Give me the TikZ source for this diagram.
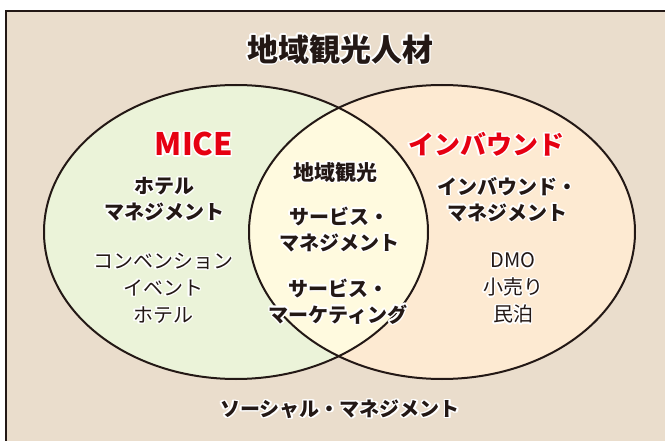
\documentclass[tikz,border=0pt]{standalone}
\usepackage{fontspec}
\setmainfont{Noto Sans CJK JP}
\usepackage[copies]{contour}
\contourlength{1.4pt}
\definecolor{bgc}{HTML}{EADDCC}
\definecolor{micefill}{HTML}{EBF3D9}
\definecolor{inbfill}{HTML}{FDEAD2}
\definecolor{midfill}{HTML}{FFFADF}
\definecolor{ink}{HTML}{231815}
\definecolor{redtxt}{HTML}{E60012}
\newcommand\hl[1]{\contour{white}{#1}}
\tikzset{
  boldtxt/.style={text=ink, align=center, font=\bfseries\fontsize{20}{26}\selectfont, inner sep=0pt},
  regtxt/.style={text=ink, align=center, font=\fontsize{20}{27}\selectfont, inner sep=0pt},
  headtxt/.style={text=redtxt, font=\bfseries\fontsize{26}{30}\selectfont, inner sep=0pt},
  ring/.style={draw=ink, line width=2pt}
}
\begin{document}
\begin{tikzpicture}[x=1pt,y=-1pt]
\useasboundingbox (0,0) rectangle (665,441);
% frame
\fill[bgc] (5,10) rectangle (665,441);
\draw[ink, line width=2.6pt] (5.8,441) -- (5.8,11) -- (665,11);
% circles
\fill[micefill] (236,232) ellipse [x radius=192, y radius=147];
\fill[inbfill] (442,232) ellipse [x radius=193, y radius=147];
\begin{scope}
  \clip (236,232) ellipse [x radius=192, y radius=147];
  \fill[midfill] (442,232) ellipse [x radius=193, y radius=147];
\end{scope}
\draw[ring] (236,232) ellipse [x radius=192, y radius=147];
\draw[ring] (442,232) ellipse [x radius=193, y radius=147];
% texts
\node[text=ink, font=\bfseries\fontsize{31}{36}\selectfont, inner sep=0pt] (title) at (340,50) {\hl{地域観光人材}};
\node[headtxt, font=\bfseries\fontsize{31}{36}\selectfont] (mice) at (194,145) {\hl{MICE}};
\node[headtxt] (inb) at (486,145) {\hl{インバウンド}};
\node[boldtxt] (hotelm) at (164,200) {\hl{ホテル}\\\hl{マネジメント}};
\node[regtxt] (conv) at (163,289) {\hl{コンベンション}\\\hl{イベント}\\\hl{ホテル}};
\node[boldtxt, font=\bfseries\fontsize{21}{26}\selectfont] (chiiki) at (335,173) {\hl{地域観光}};
\node[boldtxt] (servm) at (339,230) {\hl{サービス・}\\\hl{マネジメント}};
\node[boldtxt] (servk) at (338,302) {\hl{サービス・}\\\hl{マーケティング}};
\node[boldtxt] (inbm) at (507,200) {\hl{インバウンド・}\\\hl{マネジメント}};
\node[regtxt] (dmo) at (513,289) {\hl{DMO}\\\hl{小売り}\\\hl{民泊}};
\node[boldtxt] (social) at (340,410) {\hl{ソーシャル・マネジメント}};
\end{tikzpicture}
\end{document}
